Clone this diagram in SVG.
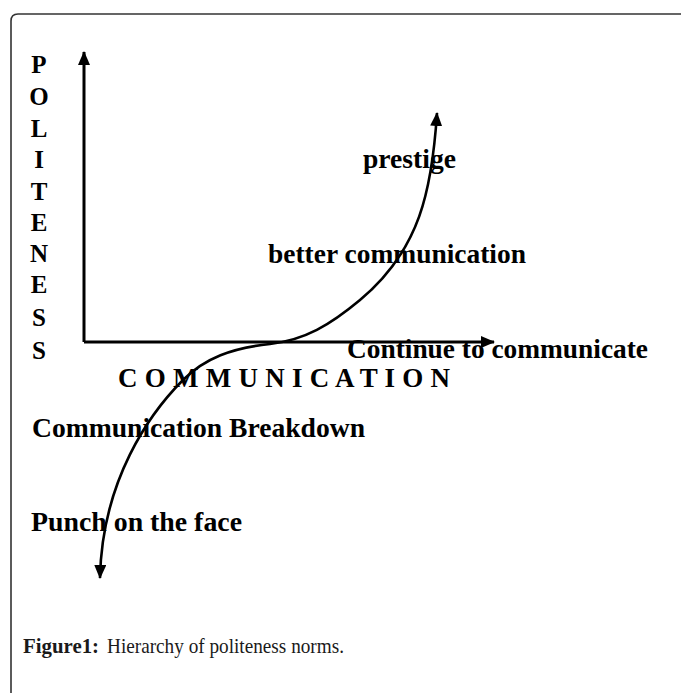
<svg xmlns="http://www.w3.org/2000/svg" width="681" height="693" viewBox="0 0 681 693">
  <style>
    .lbl { font-family: "Liberation Serif", "Times New Roman", serif; font-weight: bold; font-size: 27px; fill: #000; }
    .vl { font-family: "Liberation Serif", "Times New Roman", serif; font-weight: bold; font-size: 25px; fill: #000; text-anchor: middle; }
    .axis { stroke: #000; stroke-width: 3; fill: none; }
    .curve { stroke: #000; stroke-width: 2.6; fill: none; }
    .cap { font-family: "Liberation Serif", "Times New Roman", serif; font-size: 21px; fill: #1a1a1a; }
  </style>
  <defs>
    <marker id="ah" markerUnits="userSpaceOnUse" markerWidth="14" markerHeight="12" viewBox="0 0 14 12" refX="13" refY="6" orient="auto-start-reverse">
      <path d="M0,0 L14,6 L0,12 z" fill="#000"/>
    </marker>
  </defs>
  <rect width="681" height="693" fill="#fff"/>
  <g id="frame">
    <path d="M11,693 V21 Q11,14 18,14 H681" fill="none" stroke="#333" stroke-width="1.6"/>
  </g>
  <g id="connectors">
    <path id="y-axis" class="axis" d="M84,342 V52" marker-end="url(#ah)"/>
    <path id="x-axis" class="axis" d="M84,342 H494" marker-end="url(#ah)"/>
    <path id="curve" class="curve" d="M437,113 C432,190 420,250 360,300 C330,325 305,340 270,344 C232,348 205,358 183,380 C150,413 102,480 100,578" marker-start="url(#ah)" marker-end="url(#ah)"/>
  </g>
  <g id="y-label">
    <text class="vl" x="39" y="73">P</text>
    <text class="vl" x="39" y="105">O</text>
    <text class="vl" x="39" y="137">L</text>
    <text class="vl" x="39" y="168">I</text>
    <text class="vl" x="39" y="200">T</text>
    <text class="vl" x="39" y="231">E</text>
    <text class="vl" x="39" y="262">N</text>
    <text class="vl" x="39" y="293">E</text>
    <text class="vl" x="39" y="326">S</text>
    <text class="vl" x="39" y="359">S</text>
  </g>
  <g id="x-label">
    <text class="lbl" x="118" y="387" font-size="22" textLength="332" lengthAdjust="spacing">C O M M U N I C A T I O N</text>
  </g>
  <g id="prestige">
    <text class="lbl" x="363" y="168" textLength="93" lengthAdjust="spacingAndGlyphs">prestige</text>
  </g>
  <g id="better-communication">
    <text class="lbl" x="268" y="263" textLength="258" lengthAdjust="spacingAndGlyphs">better communication</text>
  </g>
  <g id="continue">
    <text class="lbl" x="347" y="358" textLength="301" lengthAdjust="spacingAndGlyphs">Continue to communicate</text>
  </g>
  <g id="breakdown">
    <text class="lbl" x="32" y="437" textLength="333" lengthAdjust="spacingAndGlyphs">Communication Breakdown</text>
  </g>
  <g id="punch">
    <text class="lbl" x="31" y="531" textLength="211" lengthAdjust="spacingAndGlyphs">Punch on the face</text>
  </g>
  <g id="caption">
    <text class="cap" x="23" y="653" font-weight="bold" textLength="76" lengthAdjust="spacingAndGlyphs">Figure1:</text>
    <text class="cap" x="107" y="653" textLength="237" lengthAdjust="spacingAndGlyphs">Hierarchy of politeness norms.</text>
  </g>
</svg>
